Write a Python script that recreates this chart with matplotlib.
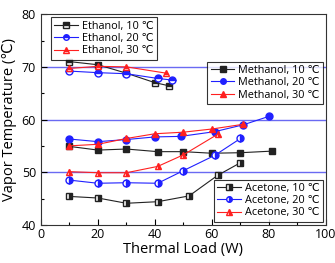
import matplotlib
matplotlib.use("Agg")
import matplotlib.pyplot as plt
from matplotlib.ticker import MultipleLocator

plt.rcParams['font.family'] = ['Open Sans', 'DejaVu Sans']

# Ethanol
eth_load_10 = [10, 20, 30, 40, 45]
eth_temp_10 = [71.0, 70.4, 68.8, 67.0, 66.4]
eth_load_20 = [10, 20, 30, 41, 46]
eth_temp_20 = [69.2, 68.9, 68.7, 67.8, 67.5]
eth_load_30 = [10, 20, 30, 44]
eth_temp_30 = [69.7, 70.1, 70.0, 68.8]

# Methanol
met_load_10 = [10, 20, 30, 41, 50, 60, 70, 81]
met_temp_10 = [54.9, 54.2, 54.4, 53.9, 53.9, 53.6, 53.7, 54.0]
met_load_20 = [10, 20, 30, 40, 49, 61, 71, 80]
met_temp_20 = [56.3, 55.8, 56.2, 56.7, 56.8, 57.7, 59.0, 60.6]
met_load_30 = [10, 20, 30, 40, 50, 60, 71]
met_temp_30 = [55.0, 55.3, 56.4, 57.3, 57.6, 58.2, 59.1]

# Acetone
ace_load_10 = [10, 20, 30, 41, 52, 62, 70]
ace_temp_10 = [45.4, 45.1, 44.1, 44.4, 45.5, 49.4, 51.8]
ace_load_20 = [10, 20, 30, 41, 50, 61, 70]
ace_temp_20 = [48.5, 47.9, 48.0, 47.9, 50.3, 53.2, 56.4]
ace_load_30 = [10, 20, 30, 41, 50, 62]
ace_temp_30 = [50.1, 49.9, 49.9, 51.1, 53.3, 57.2]

ref_lines = [70, 60, 50]

fig = plt.figure(figsize=(3.35, 2.63), dpi=100)
ax = fig.add_axes([0.122, 0.145, 0.851, 0.801])

for y in ref_lines:
    ax.axhline(y, color='#6a6af2', lw=1.0, zorder=1)

blk, blu, red = '#222222', '#2020ff', '#ff2020'
kw = dict(lw=0.8, ms=5, markerfacecoloralt='white')

def series(x, y, c, m, fill, label):
    return ax.plot(x, y, color=c, marker=m, mfc=c, mec=c, fillstyle=fill,
                   label=label, **kw)[0]

e1 = series(eth_load_10, eth_temp_10, blk, 's', 'top', 'Ethanol, 10 \u2103')
e2 = series(eth_load_20, eth_temp_20, blu, 'o', 'top', 'Ethanol, 20 \u2103')
e3 = series(eth_load_30, eth_temp_30, red, '^', 'top', 'Ethanol, 30 \u2103')
m1 = series(met_load_10, met_temp_10, blk, 's', 'full', 'Methanol, 10 \u2103')
m2 = series(met_load_20, met_temp_20, blu, 'o', 'full', 'Methanol, 20 \u2103')
m3 = series(met_load_30, met_temp_30, red, '^', 'full', 'Methanol, 30 \u2103')
a1 = series(ace_load_10, ace_temp_10, blk, 's', 'right', 'Acetone, 10 \u2103')
a2 = series(ace_load_20, ace_temp_20, blu, 'o', 'right', 'Acetone, 20 \u2103')
a3 = series(ace_load_30, ace_temp_30, red, '^', 'right', 'Acetone, 30 \u2103')

lkw = dict(fontsize=7.8, frameon=True, fancybox=False, edgecolor='black',
           handlelength=2.2, handletextpad=0.3, borderpad=0.3,
           labelspacing=0.12, borderaxespad=0.3, markerscale=0.8)
leg1 = ax.legend(handles=[e1, e2, e3], loc='upper left',
                 bbox_to_anchor=(0.025, 1.0), **lkw)
leg1.get_frame().set_linewidth(0.8)
ax.add_artist(leg1)
leg2 = ax.legend(handles=[m1, m2, m3], loc='upper right',
                 bbox_to_anchor=(1.0, 0.79), **lkw)
leg2.get_frame().set_linewidth(0.8)
ax.add_artist(leg2)
leg3 = ax.legend(handles=[a1, a2, a3], loc='lower right',
                 bbox_to_anchor=(1.0, 0.0), **lkw)
leg3.get_frame().set_linewidth(0.8)

ax.set_xlim(0, 100)
ax.set_ylim(40, 80)
ax.xaxis.set_major_locator(MultipleLocator(20))
ax.xaxis.set_minor_locator(MultipleLocator(10))
ax.yaxis.set_major_locator(MultipleLocator(10))
ax.yaxis.set_minor_locator(MultipleLocator(5))
ax.tick_params(which='both', direction='in', labelsize=9, width=0.8)
ax.tick_params(axis='x', pad=2)
ax.tick_params(which='major', length=4)
ax.tick_params(which='minor', length=2)
for s in ax.spines.values():
    s.set_linewidth(0.8)
    s.set_color('#333333')

ax.set_xlabel('Thermal Load (W)', fontsize=10.5, labelpad=1)
ax.set_ylabel('Vapor Temperature (\u2103)', fontsize=10.5, labelpad=3)

fig.savefig('out.png', dpi=100)
